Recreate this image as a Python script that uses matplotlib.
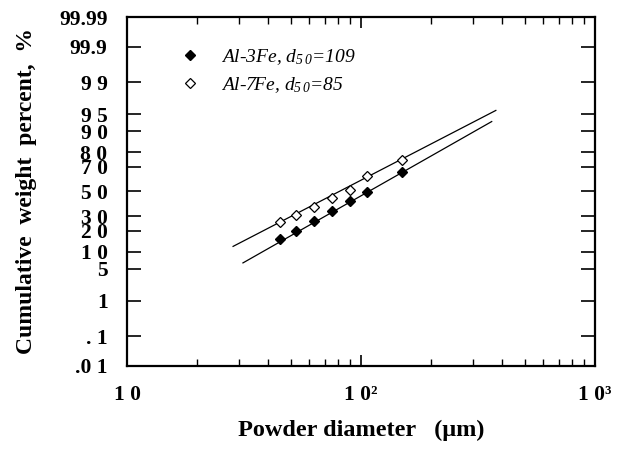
from statistics import NormalDist

import numpy as np
import matplotlib
matplotlib.use('Agg')
import matplotlib.pyplot as plt
from matplotlib.ticker import FixedLocator, NullFormatter

plt.rcParams['font.family'] = 'Liberation Serif'
plt.rcParams['mathtext.fontset'] = 'custom'
plt.rcParams['mathtext.rm'] = 'Liberation Serif:italic'
plt.rcParams['mathtext.it'] = 'Liberation Serif:italic'
plt.rcParams['mathtext.bf'] = 'Liberation Serif:bold'

# sieve sizes (um) and cumulative weight percent
size_3fe = [45, 53, 63, 75, 90, 106, 150]
cum_3fe = [15.7, 20.2, 26.7, 33.6, 41.7, 49.6, 66.1]
size_7fe = [45, 53, 63, 75, 90, 106, 150]
cum_7fe = [25.6, 31.1, 36.8, 44.5, 51.6, 63.2, 74.6]

# fitted log-normal lines (end points)
fit_x_3fe = [31.3, 362]
fit_y_3fe = [6.4, 93.2]
fit_x_7fe = [28.4, 377]
fit_y_7fe = [12.1, 95.8]

yticks = [0.01, 0.1, 1, 5, 10, 20, 30, 50, 70, 80, 90, 95, 99, 99.9, 99.99]
ylabels = ['.0 1', '. 1', '1', '5', '1 0', '2 0', '3 0', '5 0', '7 0', '8 0',
           '9 0', '9 5', '9 9', '99.9', '99.99']
xticks = [10, 100, 1000]
xlabels = ['1 0', '1 0\u00b2', '1 0\u00b3']

nd = NormalDist()
_fwd = np.vectorize(lambda v: nd.inv_cdf(v / 100.0), otypes=[float])
_inv = np.vectorize(lambda z: nd.cdf(z) * 100.0, otypes=[float])

def forward(p):
  p = np.clip(np.asarray(p, dtype=float), 1e-7, 100 - 1e-7)
  return _fwd(p)

def inverse(z):
  return _inv(np.asarray(z, dtype=float))

fig = plt.figure(figsize=(6.3, 4.51), dpi=100)
ax = fig.add_axes([0.2016, 0.1885, 0.7428, 0.7738])
ax.set_xscale('log')
ax.set_yscale('function', functions=(forward, inverse))
ax.set_xlim(10, 1000)
ax.set_ylim(0.01, 99.99)

ax.plot(fit_x_3fe, fit_y_3fe, '-', color='black', linewidth=0.9)
ax.plot(fit_x_7fe, fit_y_7fe, '-', color='black', linewidth=0.9)
h1, = ax.plot(size_3fe, cum_3fe, 'D', color='black', markersize=5,
              linestyle='none')
h2, = ax.plot(size_7fe, cum_7fe, 'D', markerfacecolor='white',
              markeredgecolor='black', markeredgewidth=0.9, markersize=5,
              linestyle='none')

ax.yaxis.set_major_locator(FixedLocator(yticks))
ax.yaxis.set_minor_locator(FixedLocator([]))
ax.set_yticklabels(ylabels)
ax.xaxis.set_major_locator(FixedLocator(xticks))
minors = [m * d for d in (10, 100) for m in range(2, 10)]
ax.xaxis.set_minor_locator(FixedLocator(minors))
ax.xaxis.set_minor_formatter(NullFormatter())
ax.set_xticklabels(xlabels)

ax.tick_params(which='both', direction='in', top=True, right=True)
ax.tick_params(axis='y', which='major', length=10, width=1.2, pad=14,
               labelsize=15.5)
ax.tick_params(axis='x', which='major', length=8, width=1.2, pad=14,
               labelsize=15.5)
ax.tick_params(axis='x', which='minor', length=5, width=1.0)
for lab in ax.get_xticklabels() + ax.get_yticklabels():
  lab.set_fontweight('bold')
for sp in ax.spines.values():
  sp.set_linewidth(1.6)

ax.set_xlabel('Powder diameter   (\u03bcm)', fontsize=17.5,
              fontweight='bold', labelpad=10)
ax.set_ylabel('Cumulative  weight  percent,  %', fontsize=17,
              fontweight='bold', labelpad=16)

leg = ax.legend([h1, h2],
                [r'Al-3Fe, $d_{5\,0}$=109', r'Al-7Fe, $d_{5\,0}$=85'],
                loc='upper left', bbox_to_anchor=(0.055, 0.965), frameon=False,
                handletextpad=0.6, labelspacing=0.45, fontsize=14)
for t in leg.get_texts():
  t.set_fontstyle('italic')

fig.savefig('out.png', dpi=100)
